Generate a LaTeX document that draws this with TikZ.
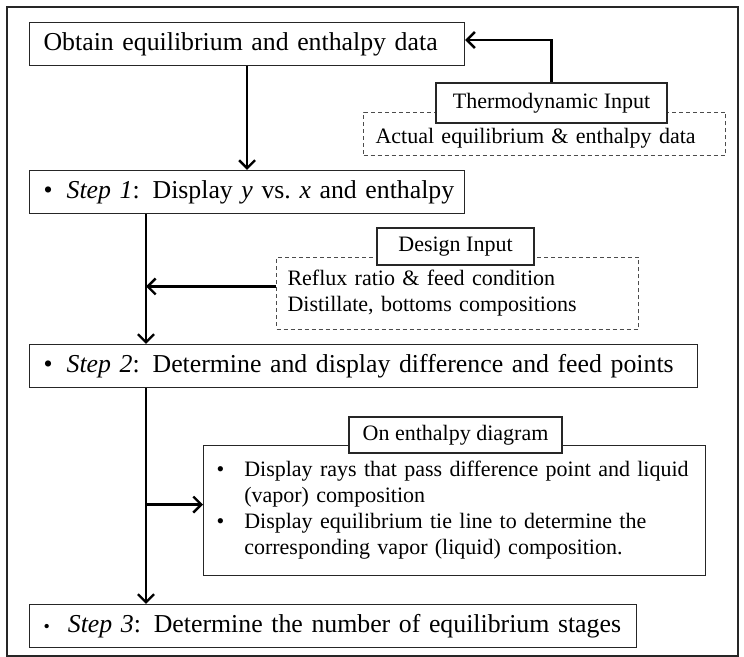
\documentclass[tikz,border=0pt]{standalone}
\usepackage{fontspec}
\setmainfont{Liberation Serif}
\usetikzlibrary{arrows.meta}

\tikzset{
  stepbox/.style={draw=black!85, line width=0.6pt, anchor=west, align=left, inner xsep=7pt, inner ysep=0pt, minimum height=21.5pt, font=\fontsize{12.9}{15}\selectfont},
  lblbox/.style={draw=black!85, line width=0.6pt, fill=white, inner sep=0pt, font=\fontsize{11}{13}\selectfont},
  dashbox/.style={draw=black!70, line width=0.5pt, dash pattern=on 2pt off 1.5pt, anchor=north west, align=left, inner xsep=6pt, font=\fontsize{11}{13}\selectfont},
  arr/.style={-{Straight Barb[length=4pt,width=8pt]}, line width=1.2pt}
}

\begin{document}
\begin{tikzpicture}[x=0.5pt,y=-0.5pt]
\useasboundingbox (0,0) rectangle (744,657);
\draw[line width=1pt, black!85] (7,7) rectangle (738,656);
\coordinate (trunk) at (146,0);

% main steps
\node[stepbox, text width=203.5pt] (obtain) at (29,44) {\mbox{Obtain equilibrium and enthalpy data}};
\node[stepbox, text width=203.5pt] (step1) at (29,192) {\mbox{\textbullet\hspace{7pt}\textit{Step 1}: Display \textit{y} vs.\ \textit{x} and enthalpy}};
\node[stepbox, text width=320pt] (step2) at (29,366) {\mbox{\textbullet\hspace{7pt}\textit{Step 2}: Determine and display difference and feed points}};
\node[stepbox, text width=289.5pt] (step3) at (29,626) {\mbox{{\fontsize{9}{9}\selectfont\textbullet}\hspace{9pt}\textit{Step 3}: Determine the number of equilibrium stages}};

% inputs
\node[dashbox, text width=169pt, text height=12pt, text depth=2.5pt, inner ysep=3.5pt] (actual) at (363,112) {Actual equilibrium \& enthalpy data};
\node[lblbox, minimum width=115.5pt, minimum height=20pt] (thermo) at (551.5,103) {Thermodynamic Input};

\node[dashbox, text width=170pt, inner xsep=5.5pt, inner ysep=0pt, minimum height=36pt] (reflux) at (276,257) {Reflux ratio \& feed condition\\Distillate, bottoms compositions};
\node[lblbox, minimum width=78.5pt, minimum height=18.5pt] (design) at (455.5,246.5) {Design Input};

\node[draw=black!85, line width=0.6pt, anchor=north west, align=left, text width=238pt, inner xsep=6.5pt, inner ysep=0pt, minimum height=65pt, font=\fontsize{11}{13}\selectfont] (ent) at (203,445)
  {\begin{tabular}{@{}l@{\hspace{10pt}}l@{}}
   \textbullet & Display rays that pass difference point and liquid\\
               & (vapor) composition\\
   \textbullet & Display equilibrium tie line to determine the\\
               & corresponding vapor (liquid) composition.
   \end{tabular}};
\node[lblbox, minimum width=106.5pt, minimum height=18pt] (ondiag) at (455.5,435) {On enthalpy diagram};

% connectors
\draw[arr] (obtain) -- (step1);
\draw[arr] (thermo.north) |- ([yshift=2pt]obtain.east);
\draw[arr] (step1.south -| trunk) -- (step2.north -| trunk);
\draw[arr] ([yshift=3.5pt]reflux.west) -- ([yshift=3.5pt]reflux.west -| trunk);
\draw[arr] (step2.south -| trunk) -- (step3.north -| trunk);
\draw[arr] ([yshift=3pt]ent.west -| trunk) -- ([yshift=3pt]ent.west);
\end{tikzpicture}
\end{document}
